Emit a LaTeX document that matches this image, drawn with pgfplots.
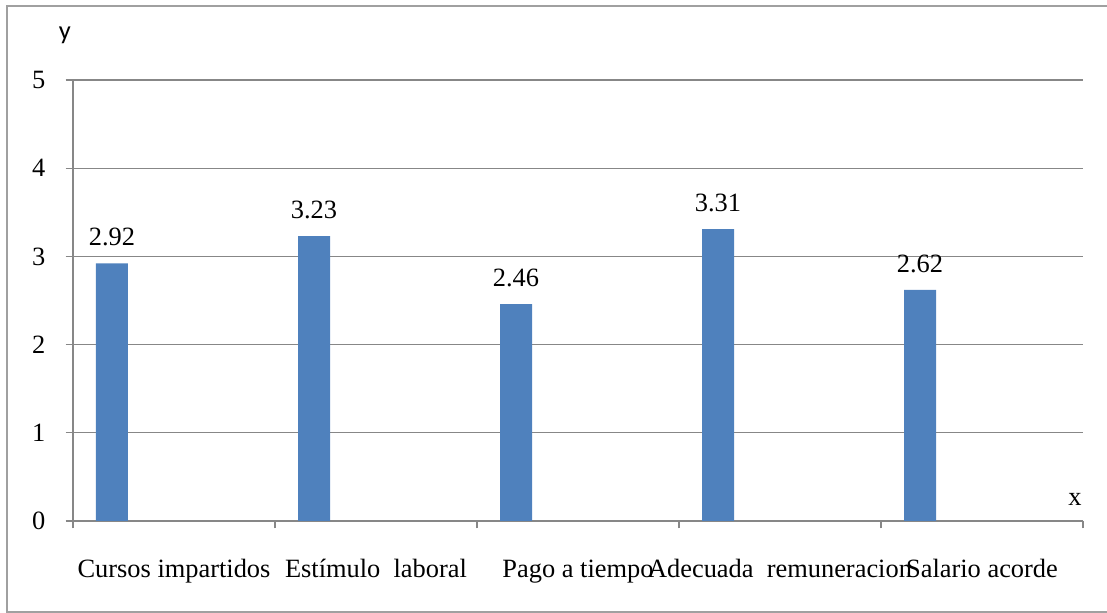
\documentclass[border=0pt]{standalone}
\usepackage{fontspec}
\setmainfont{Liberation Serif}
\newfontfamily\sansy{Carlito}
\usepackage{pgfplots}
\pgfplotsset{compat=1.18}
\definecolor{barblue}{HTML}{4F81BD}
\definecolor{gridgray}{HTML}{878787}
\definecolor{framegray}{HTML}{A0A0A0}
\begin{document}
\fontsize{19.8pt}{24pt}\selectfont
\begin{tikzpicture}[x=0.75pt,y=0.75pt]
\useasboundingbox (0,0) rectangle (1107,613);
\draw[color=framegray, line width=1.2pt] (1107,607) -- (7,607) -- (7,1) -- (1107,1);
\begin{axis}[
  at={(54.75pt,69pt)}, anchor=south west,
  scale only axis, width=757.5pt, height=330.75pt,
  xmin=-0.5, xmax=4.5, ymin=0, ymax=5,
  axis x line*=bottom, axis y line*=left,
  axis line style={gridgray, line width=1pt},
  ytick={0,1,2,3,4,5}, yticklabels={0,1,2,3,4,5},
  ymajorgrids, grid style={gridgray, line width=1pt},
  xtick={-0.5,0.5,1.5,2.5,3.5,4.5},
  xticklabels={Cursos impartidos, Estímulo\ \ laboral, Pago a tiempo, Adecuada\ \ remuneracion, Salario acorde, {}},
  tick align=outside, major tick length=5.5pt,
  tick style={gridgray, line width=1pt},
  xticklabel style={anchor=base, inner sep=0pt, xshift=75.75pt, yshift=-36.75pt},
  yticklabel style={anchor=east, inner sep=0pt, xshift=-15pt},
  ybar, bar width=24pt, bar shift=-46.5pt,
  nodes near coords={\pgfmathprintnumber[fixed,fixed zerofill,precision=2,assume math mode=true]{\pgfplotspointmeta}},
  every node near coord/.append style={anchor=south, inner sep=0pt, yshift=12.75pt, black},
  xlabel={x}, every axis x label/.style={at={(rel axis cs:0.992,0.05)}, anchor=center},
  ylabel={\sansy y}, every axis y label/.style={at={(rel axis cs:-0.008,1.102)}, anchor=center},
  clip=false,
]
\addplot[fill=barblue, draw=none] coordinates {(0,2.92) (1,3.23) (2,2.46) (3,3.31) (4,2.62)};
\end{axis}
\end{tikzpicture}
\end{document}
